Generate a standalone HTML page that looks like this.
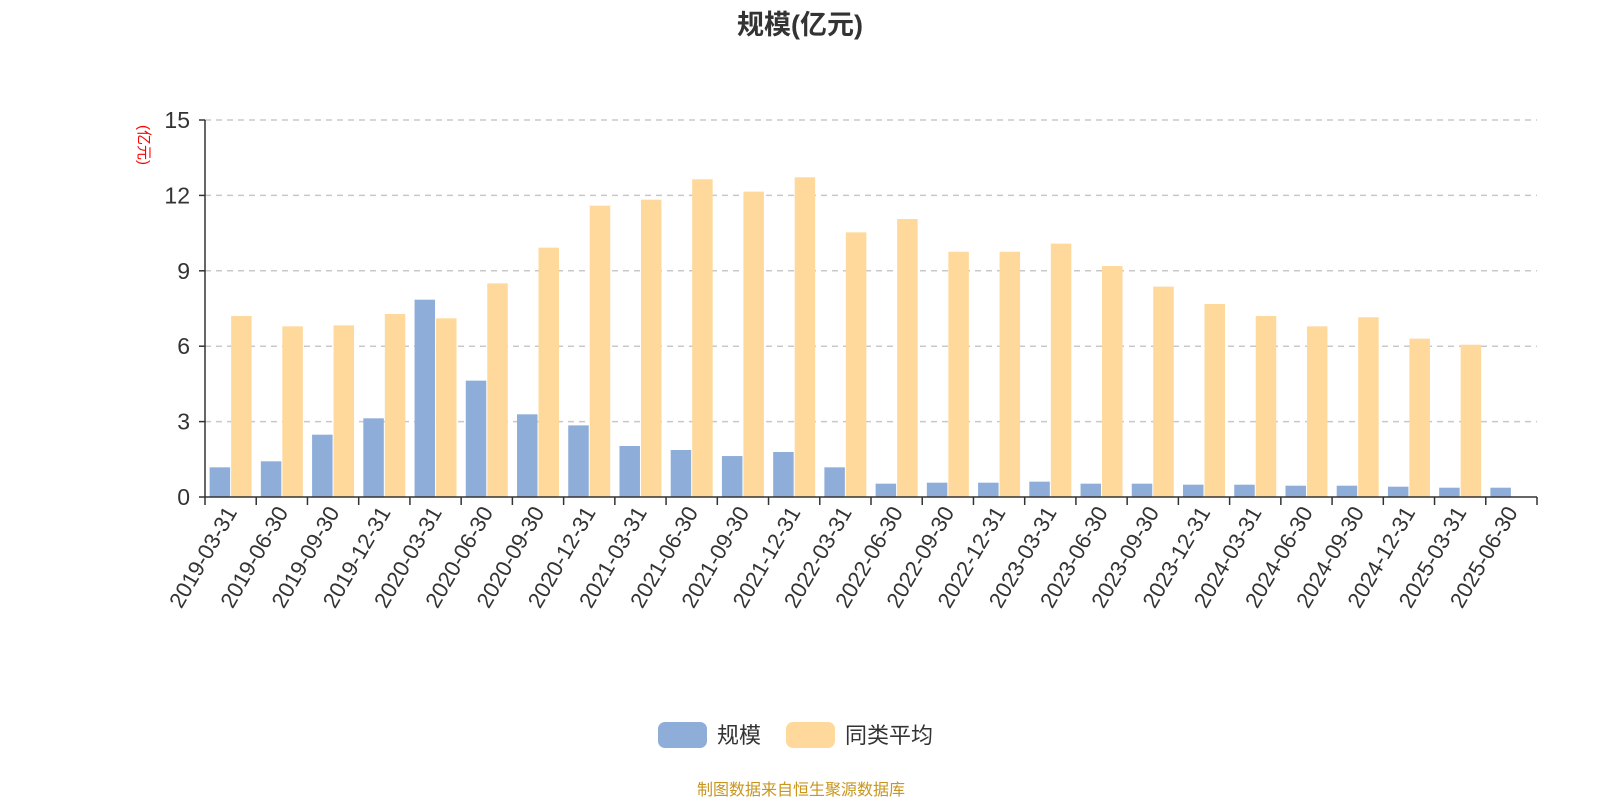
<!DOCTYPE html>
<html><head><meta charset="utf-8">
<style>
html,body{margin:0;padding:0;background:#fff;}
body{width:1600px;height:800px;overflow:hidden;font-family:"Liberation Sans","Noto Sans CJK SC",sans-serif;}
</style></head>
<body>
<svg id="chart" width="1600" height="800" xmlns="http://www.w3.org/2000/svg" font-family="Liberation Sans, Noto Sans CJK SC, sans-serif">
<text x="800" y="34" text-anchor="middle" font-size="27" font-weight="bold" fill="#333">规模(亿元)</text>
<text transform="translate(139,145) rotate(90)" text-anchor="middle" font-size="15" fill="#ff0000">(亿元)</text>
<g id="grid"></g><g id="bars"></g><g id="axes"></g>
<g>
<g><rect x="658" y="722" width="49" height="26" rx="7" fill="#8eadd9"/><text x="717" y="743" font-size="22" fill="#333">规模</text></g>
<g><rect x="786" y="722" width="49" height="26" rx="7" fill="#fed99b"/><text x="845" y="743" font-size="22" fill="#333">同类平均</text></g>
</g>
<text x="801" y="795" text-anchor="middle" font-size="16" fill="#c8961e">制图数据来自恒生聚源数据库</text>
</svg>
<script>
const categories=["2019-03-31","2019-06-30","2019-09-30","2019-12-31","2020-03-31","2020-06-30","2020-09-30","2020-12-31","2021-03-31","2021-06-30","2021-09-30","2021-12-31","2022-03-31","2022-06-30","2022-09-30","2022-12-31","2023-03-31","2023-06-30","2023-09-30","2023-12-31","2024-03-31","2024-06-30","2024-09-30","2024-12-31","2025-03-31","2025-06-30"];
const scaleValues=[1.18,1.42,2.48,3.13,7.85,4.63,3.29,2.85,2.03,1.87,1.63,1.79,1.18,0.53,0.57,0.57,0.61,0.53,0.53,0.49,0.49,0.45,0.45,0.41,0.37,0.37];
const avgValues=[7.2,6.79,6.83,7.28,7.11,8.5,9.92,11.59,11.83,12.64,12.15,12.72,10.53,11.06,9.76,9.76,10.08,9.19,8.37,7.68,7.2,6.79,7.15,6.3,6.06,null];
const yTicks=[0,3,6,9,12,15];
const X0=205,X1=1537,Y0=497,Y1=120,YMAX=15;
const band=(X1-X0)/categories.length;
const y=v=>Y0-(v/YMAX)*(Y0-Y1);
const xb=i=>X0+i*band;
const NS="http://www.w3.org/2000/svg";
function mk(tag,attrs,parent){const e=document.createElementNS(NS,tag);for(const k in attrs)e.setAttribute(k,attrs[k]);parent.appendChild(e);return e;}
const grid=document.getElementById('grid'),bars=document.getElementById('bars'),axes=document.getElementById('axes');
yTicks.forEach(t=>{
  if(t>0){const l=mk('line',{x1:X0,x2:X1,y1:y(t),y2:y(t),stroke:'#c8c8c8','stroke-width':1.5,'stroke-dasharray':'6,5'},grid);
  
  }
  const tk=mk('line',{x1:X0-6,x2:X0,y1:y(t),y2:y(t),stroke:'#333','stroke-width':1.5},axes);
  
  
  const tx=mk('text',{x:X0-15,y:y(t)+8,'text-anchor':'end','font-size':23,fill:'#333'},axes);
  tx.textContent=t;
  
  
});
const bw=band*0.4;
categories.forEach((c,i)=>{
  const cx=xb(i)+band/2;
  const v1=scaleValues[i];
  if(v1!=null){const r=mk('rect',{x:cx-bw-0.5,y:y(v1),width:bw,height:Y0-y(v1),fill:'#8eadd9'},bars);
  
  }
  const v2=avgValues[i];
  if(v2!=null){const r=mk('rect',{x:cx+0.5,y:y(v2),width:bw,height:Y0-y(v2),fill:'#fed99b'},bars);
  
  }
  const tx=mk('text',{transform:`translate(${cx+7},${Y0+15}) rotate(-60)`,'text-anchor':'end','font-size':22,fill:'#333'},axes);
  tx.textContent=c;
  
  
});
for(let i=0;i<=categories.length;i++){
  const tk=mk('line',{x1:xb(i),x2:xb(i),y1:Y0,y2:Y0+8,stroke:'#333','stroke-width':1.5},axes);
  
  
}
const ya=mk('line',{x1:X0,x2:X0,y1:Y1,y2:Y0,stroke:'#333','stroke-width':1.5},axes);


const xa=mk('line',{x1:X0,x2:X1,y1:Y0,y2:Y0,stroke:'#333','stroke-width':1.5},axes);


</script>
</body></html>
